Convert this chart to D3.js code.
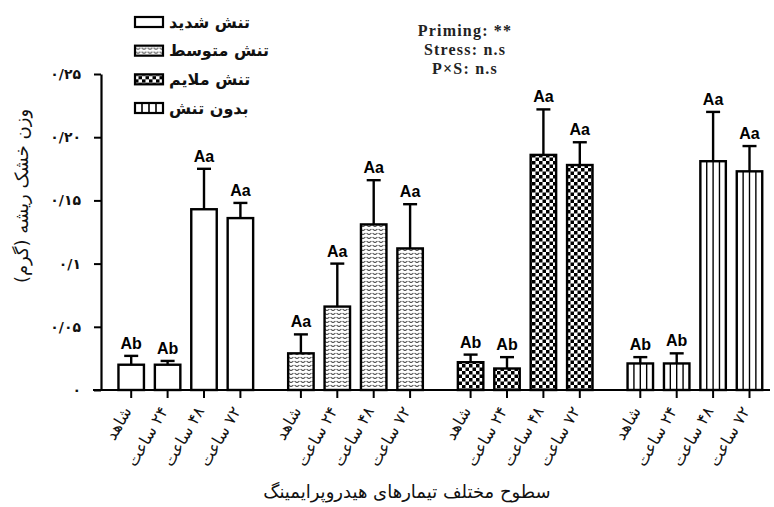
<!DOCTYPE html>
<html>
<head>
<meta charset="utf-8">
<script src="https://cdn.jsdelivr.net/npm/d3@7"></script>
<style>
  html, body { margin: 0; padding: 0; background: #fff; }
  svg { display: block; }
</style>
</head>
<body>
<svg id="chart" width="774" height="507"></svg>
<script>
// Stress levels (one group of bars each) and priming durations (bars within a group)
const groups = ["تنش شدید", "تنش متوسط", "تنش ملایم", "بدون تنش"];
const times = ["شاهد", "۲۴ ساعت", "۴۸ ساعت", "۷۲ ساعت"];

// Root dry weight (g): means and standard errors per stress level
const severeMean   = [0.020, 0.020, 0.143, 0.136];
const severeErr    = [0.007, 0.003, 0.032, 0.012];
const moderateMean = [0.029, 0.066, 0.131, 0.112];
const moderateErr  = [0.015, 0.034, 0.035, 0.035];
const mildMean     = [0.022, 0.017, 0.186, 0.178];
const mildErr      = [0.006, 0.009, 0.036, 0.018];
const noneMean     = [0.021, 0.021, 0.181, 0.173];
const noneErr      = [0.005, 0.008, 0.039, 0.020];

// Mean-comparison letters
const severeLetters   = ["Ab", "Ab", "Aa", "Aa"];
const moderateLetters = ["Aa", "Aa", "Aa", "Aa"];
const mildLetters     = ["Ab", "Ab", "Aa", "Aa"];
const noneLetters     = ["Ab", "Ab", "Aa", "Aa"];

// Y axis ticks and their Persian labels
const yTicks = [0, 0.05, 0.1, 0.15, 0.2, 0.25];
const yTickLabels = ["۰", "۰/۰۵", "۰/۱", "۰/۱۵", "۰/۲۰", "۰/۲۵"];

// ANOVA significance notes
const anovaNotes = ["Priming: **", "Stress: n.s", "P×S: n.s"];

const yTitle = "وزن خشک ریشه (گرم)";
const xTitle = "سطوح مختلف تیمارهای هیدروپرایمینگ";

const means = [severeMean, moderateMean, mildMean, noneMean];
const errs = [severeErr, moderateErr, mildErr, noneErr];
const letters = [severeLetters, moderateLetters, mildLetters, noneLetters];

const rows = [];
groups.forEach((g, gi) => {
  times.forEach((t, ti) => {
    rows.push({ group: g, gi, time: t, value: means[gi][ti], err: errs[gi][ti], letter: letters[gi][ti] });
  });
});

const svg = d3.select("#chart");
const faFont = "'DejaVu Sans', sans-serif";

// Scales
const y = d3.scaleLinear().domain([0, 0.25]).range([390, 74]);
const x0 = d3.scaleBand().domain(groups).range([113, 767.7]).paddingInner(0.142).paddingOuter(0);
const x1 = d3.scaleBand().domain(times).range([0, x0.bandwidth()]).paddingInner(0.3).paddingOuter(0.15);
const cx = d => x0(d.group) + x1(d.time) + x1.bandwidth() / 2;

// Fill patterns
const defs = svg.append("defs");

const dots = defs.append("pattern").attr("id", "pat-dots")
  .attr("patternUnits", "userSpaceOnUse").attr("width", 6).attr("height", 4);
dots.append("rect").attr("width", 6).attr("height", 4).attr("fill", "#fff");
dots.append("path").attr("d", "M0.6,1.0 Q3,3.8 5.4,1.0")
  .attr("fill", "none").attr("stroke", "#3a3a3a").attr("stroke-width", 1.1);

const checker = defs.append("pattern").attr("id", "pat-checker")
  .attr("patternUnits", "userSpaceOnUse").attr("width", 7).attr("height", 7);
checker.append("rect").attr("width", 7).attr("height", 7).attr("fill", "#fff");
checker.append("rect").attr("width", 3.5).attr("height", 3.5).attr("fill", "#000");
checker.append("rect").attr("x", 3.5).attr("y", 3.5).attr("width", 3.5).attr("height", 3.5).attr("fill", "#000");

const fills = ["#fff", "url(#pat-dots)", "url(#pat-checker)", "#fff"];

// Bars
const bars = svg.append("g");
bars.selectAll("rect.bar").data(rows).join("rect")
  .attr("class", "bar")
  .attr("x", d => x0(d.group) + x1(d.time))
  .attr("y", d => y(d.value))
  .attr("width", x1.bandwidth())
  .attr("height", d => y(0) - y(d.value))
  .attr("fill", d => fills[d.gi])
  .attr("stroke", "#000").attr("stroke-width", 2.4);

// Vertical stripes inside the no-stress bars
const stripeRows = rows.filter(d => d.gi === 3);
bars.selectAll("g.stripes").data(stripeRows).join("g")
  .attr("class", "stripes")
  .each(function (d) {
    const left = x0(d.group) + x1(d.time);
    const w = x1.bandwidth();
    d3.select(this).selectAll("line").data([1, 2, 3]).join("line")
      .attr("x1", k => left + w * k / 4).attr("x2", k => left + w * k / 4)
      .attr("y1", y(d.value)).attr("y2", y(0))
      .attr("stroke", "#000").attr("stroke-width", 1.4);
  });

// Error bars (upper only)
const eb = svg.append("g").attr("stroke", "#000").attr("stroke-width", 2.4);
eb.selectAll("line.stem").data(rows).join("line")
  .attr("x1", cx).attr("x2", cx)
  .attr("y1", d => y(d.value)).attr("y2", d => y(d.value + d.err));
eb.selectAll("line.cap").data(rows).join("line")
  .attr("x1", d => cx(d) - 7).attr("x2", d => cx(d) + 7)
  .attr("y1", d => y(d.value + d.err)).attr("y2", d => y(d.value + d.err));

// Letters above error bars
svg.append("g").selectAll("text").data(rows).join("text")
  .attr("x", cx).attr("y", d => y(d.value + d.err) - 7)
  .attr("text-anchor", "middle")
  .attr("font-family", "'Liberation Sans', Arial, sans-serif")
  .attr("font-weight", "bold").attr("font-size", 16)
  .text(d => d.letter);

// Y axis
const yAxis = svg.append("g").attr("transform", "translate(101,0)")
  .call(d3.axisLeft(y).tickValues(yTicks).tickFormat((d, i) => yTickLabels[i])
    .tickSize(7).tickSizeOuter(0).tickPadding(13));
yAxis.select(".domain").attr("stroke-width", 2.2);
yAxis.selectAll(".tick line").attr("stroke-width", 2);
yAxis.selectAll(".tick text").attr("font-family", faFont).attr("font-size", 14)
  .attr("letter-spacing", 2).attr("font-weight", "bold").attr("fill", "#111");

// X axis baseline and ticks
svg.append("line").attr("x1", 93).attr("x2", 770).attr("y1", y(0)).attr("y2", y(0))
  .attr("stroke", "#000").attr("stroke-width", 2.2);
svg.append("g").selectAll("line").data(rows).join("line")
  .attr("x1", cx).attr("x2", cx).attr("y1", y(0)).attr("y2", y(0) + 8)
  .attr("stroke", "#000").attr("stroke-width", 2);

// X tick labels, rotated
svg.append("g").selectAll("text").data(rows).join("text")
  .attr("transform", d => `translate(${cx(d) - 4},${y(0) + 18}) rotate(-60)`)
  .attr("direction", "rtl")
  .attr("text-anchor", "start")
  .attr("dy", "0.35em")
  .attr("font-family", faFont).attr("font-size", 16).attr("fill", "#111")
  .text(d => d.time);

// Axis titles
svg.append("text")
  .attr("transform", "translate(28,196) rotate(-90)")
  .attr("direction", "rtl").attr("text-anchor", "middle")
  .attr("font-family", faFont).attr("font-size", 18).attr("fill", "#111")
  .text(yTitle);
svg.append("text")
  .attr("x", 407).attr("y", 498)
  .attr("direction", "rtl").attr("text-anchor", "middle")
  .attr("font-family", faFont).attr("font-size", 18).attr("fill", "#111")
  .text(xTitle);

// Legend
const legendY = d3.scalePoint().domain(groups).range([22, 108]);
const legend = svg.append("g").selectAll("g").data(groups).join("g")
  .attr("transform", g => `translate(135,${legendY(g)})`);
legend.append("rect")
  .attr("x", 0).attr("y", -5).attr("width", 28).attr("height", 10)
  .attr("fill", (g, i) => fills[i]).attr("stroke", "#000").attr("stroke-width", 2.2);
legend.filter((g, i) => i === 3).selectAll("line").data([1, 2, 3]).join("line")
  .attr("x1", k => 28 * k / 4).attr("x2", k => 28 * k / 4)
  .attr("y1", -5).attr("y2", 5).attr("stroke", "#000").attr("stroke-width", 1.6);
legend.append("text")
  .attr("x", 34).attr("y", 0).attr("dy", "0.35em")
  .attr("direction", "rtl").attr("text-anchor", "end")
  .attr("font-family", faFont).attr("font-size", 16).attr("font-weight", "bold").attr("fill", "#111")
  .text(g => g);

// ANOVA notes
svg.append("g").selectAll("text").data(anovaNotes).join("text")
  .attr("x", 465).attr("y", (d, i) => 36 + i * 19)
  .attr("text-anchor", "middle")
  .attr("font-family", "'Liberation Serif', 'Times New Roman', serif")
  .attr("font-weight", "bold").attr("font-size", 16).attr("letter-spacing", 1.2).attr("fill", "#222")
  .text(d => d);
</script>
</body>
</html>
